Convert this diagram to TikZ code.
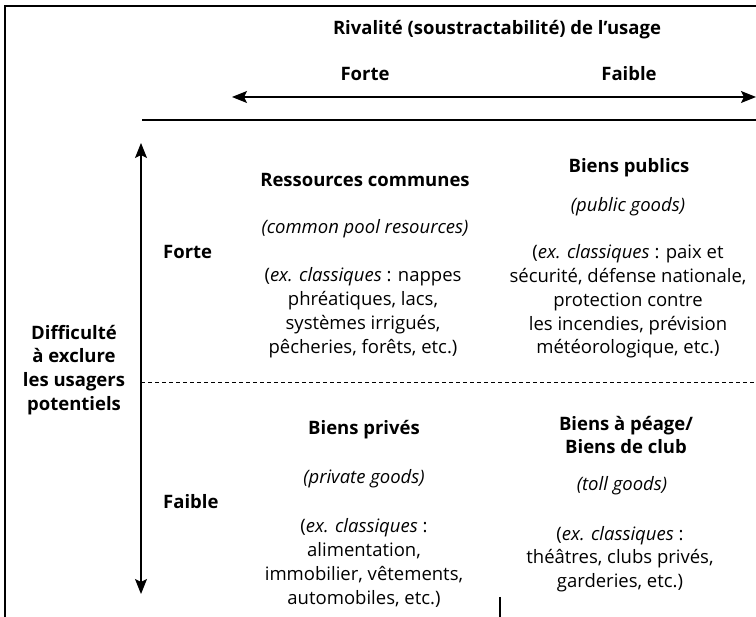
\documentclass[tikz,border=0pt]{standalone}
\usepackage{fontspec}
\setmainfont{Open Sans}
\usetikzlibrary{arrows.meta}
\begin{document}
\begin{tikzpicture}[x=1pt,y=-1pt,
  txt/.style={font=\fontsize{18.5}{23.8}\selectfont, align=center, inner sep=0pt},
  hd/.style={font=\fontsize{18.5}{23.8}\selectfont\bfseries, align=center, inner sep=0pt},
  it/.style={font=\fontsize{18.5}{23.8}\selectfont\itshape, align=center, inner sep=0pt},
  rule/.style={line width=1.2pt},
  axis/.style={line width=1.2pt, {Stealth[length=15pt,width=12pt,inset=3pt]}-{Stealth[length=15pt,width=12pt,inset=3pt]}},
  sep/.style={line width=0.9pt, dash pattern=on 4pt off 3pt}]
\useasboundingbox (0,0) rectangle (756,617);

% frame of the table
\coordinate (fb) at (5,617);
\coordinate (fc) at (5,6);
\coordinate (fr) at (756,6);
\draw[rule] (fb) -- (fc) -- (fr);
\coordinate (hl) at (142,120);
\coordinate (hr) at (756,120);
\draw[rule] (hl) -- (hr);
\coordinate (cb) at (500,597);
\coordinate (ce) at (500,617);
\draw[rule] (cb) -- (ce);

% axes
\coordinate (ax1) at (232,97);
\coordinate (ax2) at (756,97);
\draw[axis] (ax1) -- (ax2);
\coordinate (ay1) at (141,143);
\coordinate (ay2) at (141,594);
\draw[axis] (ay1) -- (ay2);
\coordinate (d1) at (141,382);
\coordinate (d2) at (756,382);
\draw[sep] (d1) -- (d2);

% column header
\node[hd] (riv) at (497,30) {Rivalité (soustractabilité) de l’usage};
\node[hd] (cforte) at (365,74) {Forte};
\node[hd] (cfaible) at (629,74) {Faible};

% row header
\node[hd] (excl) at (74,370) {Difficulté\\à exclure\\les usagers\\potentiels};
\node[hd, anchor=west] (rforte) at (163,252) {Forte};
\node[hd, anchor=west] (rfaible) at (163,502) {Faible};

% common pool resources
\node[hd] (t11) at (365,180) {Ressources communes};
\node[it] (i11) at (365,229) {(common pool resources)};
\node[txt] (e11) at (363,312.5) {(\textit{ex. classiques} : nappes\\phréatiques, lacs,\\systèmes irrigués,\\pêcheries, forêts, etc.)};

% public goods
\node[hd] (t12) at (629,168) {Biens publics};
\node[it] (i12) at (628,207) {(public goods)};
\node[txt] (e12) at (628,301.5) {(\textit{ex. classiques} : paix et\\sécurité, défense nationale,\\protection contre\\les incendies, prévision\\météorologique, etc.)};

% private goods
\node[hd] (t21) at (364,430) {Biens privés};
\node[it] (i21) at (364,479) {(private goods)};
\node[txt] (e21) at (364,563) {(\textit{ex. classiques} :\\alimentation,\\immobilier, vêtements,\\automobiles, etc.)};

% toll goods
\node[hd] (t22) at (626,435) {Biens à péage/\\Biens de club};
\node[it] (i22) at (622,486) {(toll goods)};
\node[txt] (e22) at (620,559) {(\textit{ex. classiques} :\\théâtres, clubs privés,\\garderies, etc.)};
\end{tikzpicture}
\end{document}
